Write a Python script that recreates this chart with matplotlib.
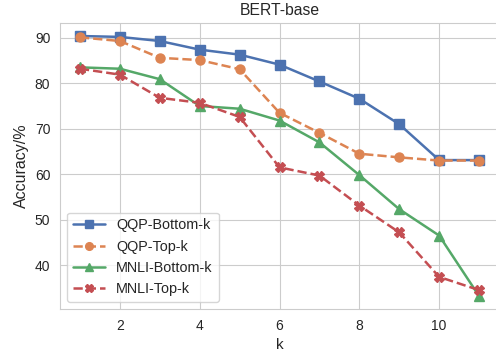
import matplotlib
matplotlib.use("Agg")
import matplotlib.pyplot as plt
import seaborn as sns

k = [1, 2, 3, 4, 5, 6, 7, 8, 9, 10, 11]
qqp_bottom = [90.4, 90.2, 89.3, 87.4, 86.3, 84.1, 80.4, 76.6, 71.0, 63.1, 63.1]
qqp_top = [90.1, 89.3, 85.6, 85.1, 83.1, 73.5, 69.1, 64.5, 63.7, 63.0, 63.0]
mnli_bottom = [83.5, 83.2, 80.9, 75.0, 74.4, 71.8, 67.0, 59.8, 52.3, 46.5, 33.2]
mnli_top = [83.2, 81.9, 76.8, 75.7, 72.6, 61.5, 59.7, 53.1, 47.2, 37.4, 34.5]
labels = ["QQP-Bottom-k", "QQP-Top-k", "MNLI-Bottom-k", "MNLI-Top-k"]

sns.set_style("whitegrid")
plt.rcParams['font.family'] = ['Liberation Sans', 'DejaVu Sans']

colors = sns.color_palette("deep")
fig = plt.figure(figsize=(4.96, 3.56), dpi=100)
ax = fig.add_axes([60/496, 47/356, 439/496, 286/356])

series = [qqp_bottom, qqp_top, mnli_bottom, mnli_top]
markers = ["s", "o", "^", "X"]
styles = ["-", "--", "-", "--"]
for vals, lab, m, ls, c in zip(series, labels, markers, styles, colors[:4]):
    ax.plot(k, vals, marker=m, linestyle=ls, color=c, label=lab, linewidth=1.8, markersize=6.5)

ax.set_xticks([2, 4, 6, 8, 10])
ax.set_yticks([40, 50, 60, 70, 80, 90])
ax.tick_params(labelsize=10)
ax.set_xlabel("k", fontsize=11)
ax.set_ylabel("Accuracy/%", fontsize=11.5)
ax.set_title("BERT-base", fontsize=11.3)
ax.legend(loc="lower left", fontsize=10.4, markerscale=0.85, handlelength=2.2)
fig.savefig("out.png", dpi=100)
